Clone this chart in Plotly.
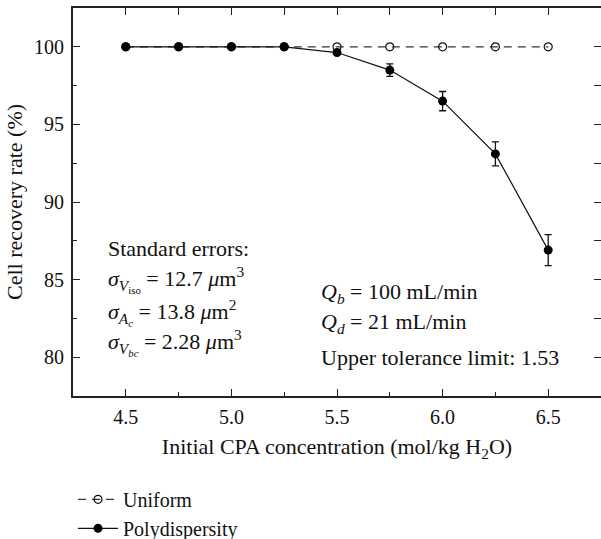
import plotly.graph_objects as go

# Initial CPA concentration (mol/kg H2O)
concentration = [4.5, 4.75, 5.0, 5.25, 5.5, 5.75, 6.0, 6.25, 6.5]
# Cell recovery rate (%)
uniform_rate = [100, 100, 100, 100, 100, 100, 100, 100, 100]
poly_rate = [100, 100, 100, 100, 99.63, 98.5, 96.5, 93.1, 86.9]
poly_err = [0, 0, 0, 0, 0, 0.4, 0.62, 0.77, 1.0]

x_range = [4.25, 6.75]
y_range = [77.5, 102.5]
x_ticks = [4.5, 5.0, 5.5, 6.0, 6.5]
x_ticklabels = ["4.5", "5.0", "5.5", "6.0", "6.5"]
y_ticks = [80, 85, 90, 95, 100]

FONT = "Liberation Serif, Times New Roman, serif"
AX = "#222222"

fig = go.Figure()

fig.add_trace(go.Scatter(
    x=concentration, y=uniform_rate, name="Uniform", mode="lines+markers",
    line=dict(color="#333333", width=1.3, dash="8px,6px"),
    marker=dict(symbol="circle-open", size=8, color="#111111", line=dict(width=1.2)),
))
fig.add_trace(go.Scatter(
    x=concentration, y=poly_rate, name="Polydispersity", mode="lines+markers",
    line=dict(color="#111111", width=1.2),
    marker=dict(symbol="circle", size=9, color="#000000"),
    error_y=dict(type="data", array=poly_err, visible=True, color="#111111",
                 thickness=1.3, width=3.5),
))

axis_common = dict(showline=True, linecolor=AX, linewidth=2, ticks="inside",
                   tickcolor=AX, tickwidth=1.3, showgrid=False, zeroline=False)

fig.update_layout(
    width=601, height=539,
    margin=dict(l=73, r=0, t=8, b=143, autoexpand=False),
    paper_bgcolor="white", plot_bgcolor="white",
    font=dict(family=FONT, size=20, color="#111111"),
    xaxis=dict(range=x_range, tickvals=x_ticks, ticktext=x_ticklabels, ticklen=7,
               ticklabelstandoff=2,
               minor=dict(ticks="inside", dtick=0.25, tick0=4.5, ticklen=4,
                          tickcolor=AX, tickwidth=1.3),
               title=dict(text="Initial CPA concentration (mol/kg H<sub>2</sub>O)",
                          standoff=12, font=dict(family=FONT, size=22)),
               **axis_common),
    yaxis=dict(range=y_range, tickvals=y_ticks, ticklen=7, ticklabelstandoff=3,
               minor=dict(ticks="inside", dtick=2.5, tick0=80, ticklen=4,
                          tickcolor=AX, tickwidth=1.3),
               title=dict(text="Cell recovery rate (%)", standoff=5,
                          font=dict(family=FONT, size=22)),
               **axis_common),
    xaxis2=dict(range=x_range, overlaying="x", side="top", dtick=0.25, tick0=4.5,
                ticklen=7, showticklabels=False, **axis_common),
    yaxis2=dict(range=y_range, overlaying="y", side="right", dtick=2.5, tick0=80,
                ticklen=7, showticklabels=False, **axis_common),
    legend=dict(x=0.0, y=-0.216, xanchor="left", yanchor="top", itemwidth=40,
                bgcolor="rgba(0,0,0,0)", font=dict(family=FONT, size=20),
                tracegroupgap=0),
    showlegend=True,
)

# invisible trace to activate the mirrored top/right axes
fig.add_trace(go.Scatter(x=[x_range[0]], y=[y_range[0]], xaxis="x2", yaxis="y2",
                         mode="markers", marker=dict(opacity=0), showlegend=False,
                         hoverinfo="skip"))

notes_left = [
    ("Standard errors:", 87.0),
    ("<i>σ</i><sub><i>V</i><sub>iso</sub></sub> = 12.7 <i>μ</i>m<sup>3</sup>", 85.0),
    ("<i>σ</i><sub><i>A</i><sub><i>c</i></sub></sub> = 13.8 <i>μ</i>m<sup>2</sup>", 82.85),
    ("<i>σ</i><sub><i>V</i><sub><i>bc</i></sub></sub> = 2.28 <i>μ</i>m<sup>3</sup>", 80.95),
]
for text, yv in notes_left:
    fig.add_annotation(x=4.405, y=yv, text=text, showarrow=False,
                       xanchor="left", yanchor="middle",
                       font=dict(family=FONT, size=22))

notes_right = [
    ("<i>Q</i><sub><i>b</i></sub> = 100 mL/min", 84.14),
    ("<i>Q</i><sub><i>d</i></sub> = 21 mL/min", 82.2),
    ("Upper tolerance limit: 1.53", 80.01),
]
for text, yv in notes_right:
    fig.add_annotation(x=5.415, y=yv, text=text, showarrow=False,
                       xanchor="left", yanchor="middle",
                       font=dict(family=FONT, size=22))

fig.write_html("out.html")
